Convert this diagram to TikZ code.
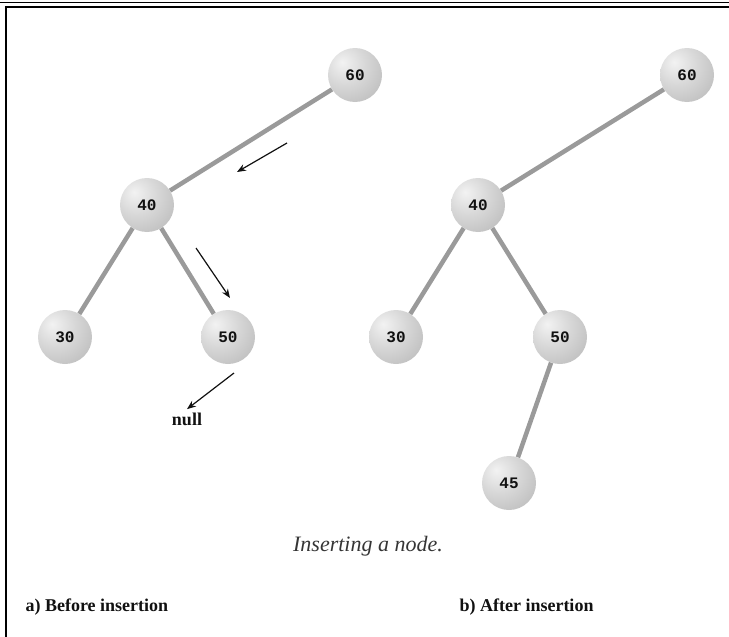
\documentclass[tikz,border=0pt]{standalone}
\usepackage{fontspec}
\setmainfont{Liberation Serif}
\newfontfamily\keyfont{Liberation Mono}
\usepackage{tikz}
\usetikzlibrary{arrows.meta,positioning,shadings}
\usepackage{xcolor}
\definecolor{ink}{HTML}{111111}
\definecolor{branch}{HTML}{9A9A9A}
\pgfdeclareradialshading{sphere}{\pgfpoint{-12bp}{12bp}}{%
  color(0bp)=(gray!10); color(18bp)=(gray!30); color(38bp)=(gray!50);
  color(55bp)=(gray!64); color(100bp)=(gray!64)}
\tikzset{
  base/.style={font=\rmfamily, text=ink},
  ball/.style={circle, minimum size=54pt, inner sep=0pt, shading=sphere, font=\keyfont\bfseries\fontsize{16}{18}\selectfont, text=ink},
  edge/.style={draw=branch, line width=4.5pt},
  arrow/.style={-{Stealth[length=9pt,width=7pt]}, line width=1.2pt, draw=ink},
  caption/.style={base, font=\rmfamily\itshape\fontsize{22}{26}\selectfont, text=ink!85},
  label/.style={base, font=\rmfamily\bfseries\fontsize{18}{21}\selectfont},
}

\begin{document}
\begin{tikzpicture}[x=1pt,y=-1pt]
  \useasboundingbox (0,0) rectangle (729,637);
  \draw[line width=1.6pt] (0,2.5) -- (729,2.5);
  \draw[line width=2pt] (4.8,6.5) -- (729,6.5);
  \draw[line width=2pt] (5.8,6.5) -- (5.8,637);

  % a) before insertion
  \node[ball] (a60) at (355,75) {60};
  \node[ball] (a40) at (147,205) {40};
  \node[ball] (a30) at (65,337) {30};
  \node[ball] (a50) at (228,337) {50};
  \node[label] (null) at (187,419) {null};
  \draw[edge] (a60) -- (a40);
  \draw[edge] (a40) -- (a30);
  \draw[edge] (a40) -- (a50);

  \coordinate (s1) at (287,143);
  \coordinate (e1) at (237,172);
  \coordinate (s2) at (196,248);
  \coordinate (e2) at (230,298);
  \coordinate (s3) at (234,373);
  \draw[arrow] (s1) -- (e1);
  \draw[arrow] (s2) -- (e2);
  \draw[arrow] (s3) -- (null.north);

  % b) after insertion
  \node[ball] (b60) at (687,75) {60};
  \node[ball] (b40) at (478,205) {40};
  \node[ball] (b30) at (396,337) {30};
  \node[ball] (b50) at (560,337) {50};
  \node[ball] (b45) at (509,483) {45};
  \draw[edge] (b60) -- (b40);
  \draw[edge] (b40) -- (b30);
  \draw[edge] (b40) -- (b50);
  \draw[edge] (b50) -- (b45);

  \node[caption] (cap) at (368,546) {Inserting a node.};
  \node[label,anchor=west] (la) at (22,607) {a) Before insertion};
  \node[label,anchor=west] (lb) at (456,607) {b) After insertion};
\end{tikzpicture}
\end{document}
